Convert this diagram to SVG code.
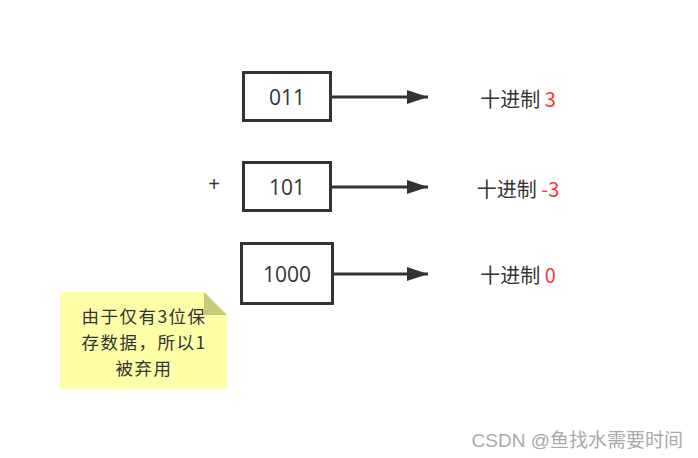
<svg xmlns="http://www.w3.org/2000/svg" width="698" height="458" viewBox="0 0 698 458">
<style>
.box{fill:#fff;stroke:#333;stroke-width:3}
.t{font-family:"Open Sans","Liberation Sans","Noto Sans CJK SC",sans-serif;font-size:21px;fill:#333;text-anchor:middle;dominant-baseline:central}
.c{font-family:"Noto Sans CJK SC",sans-serif;font-size:20px;fill:#333;text-anchor:middle;dominant-baseline:central}
.n{font-family:"Noto Sans CJK SC",sans-serif;font-size:17.5px;letter-spacing:1.5px;fill:#333;text-anchor:middle;dominant-baseline:central}
.r{fill:#ff3333}
.link{stroke:#333;stroke-width:3;fill:none}
</style>
<defs>
<marker id="ah" markerWidth="7" markerHeight="4.6" refX="7" refY="2.3" orient="auto" markerUnits="strokeWidth">
<path d="M0,0 L7,2.3 L0,4.6 Z" fill="#333"/>
</marker>
</defs>
<rect width="698" height="458" fill="#fff"/>
<g id="n1"><rect class="box" x="243.5" y="72.5" width="87" height="48"/><text class="t" x="287" y="97">011</text></g>
<g id="n2"><rect class="box" x="243.5" y="162.5" width="87" height="48"/><text class="t" x="287" y="187">101</text></g>
<g id="n3"><rect class="box" x="241.5" y="243.5" width="91" height="60"/><text class="t" x="287" y="274">1000</text></g>
<g id="plus"><text x="214" y="184" text-anchor="middle" dominant-baseline="central" style="font-family:'Liberation Sans',sans-serif;font-size:20px;fill:#333">+</text></g>
<g id="l1"><text class="c" x="518" y="98">十进制 <tspan class="r">3</tspan></text></g>
<g id="l2"><text class="c" x="518" y="188">十进制 <tspan class="r">-3</tspan></text></g>
<g id="l3"><text class="c" x="518" y="274">十进制 <tspan class="r">0</tspan></text></g>
<g id="connectors">
<line class="link" x1="331" y1="97" x2="428" y2="97" marker-end="url(#ah)"/>
<line class="link" x1="331" y1="187" x2="428" y2="187" marker-end="url(#ah)"/>
<line class="link" x1="333" y1="274" x2="428" y2="274" marker-end="url(#ah)"/>
</g>
<g id="note">
<path d="M60,292 H204 L227,315 V389 H60 Z" fill="#ffffa8"/>
<path d="M204,292 L227,315 H204 Z" fill="#c9c97a"/>
<text class="n" x="144" y="315">由于仅有3位保</text>
<text class="n" x="144" y="341">存数据，所以1</text>
<text class="n" x="144" y="367">被弃用</text>
</g>
<text x="683" y="440" text-anchor="end" dominant-baseline="central" style="font-family:'Liberation Sans','Noto Sans CJK SC',sans-serif;font-size:19px;fill:#aaa">CSDN @鱼找水需要时间</text>
</svg>
